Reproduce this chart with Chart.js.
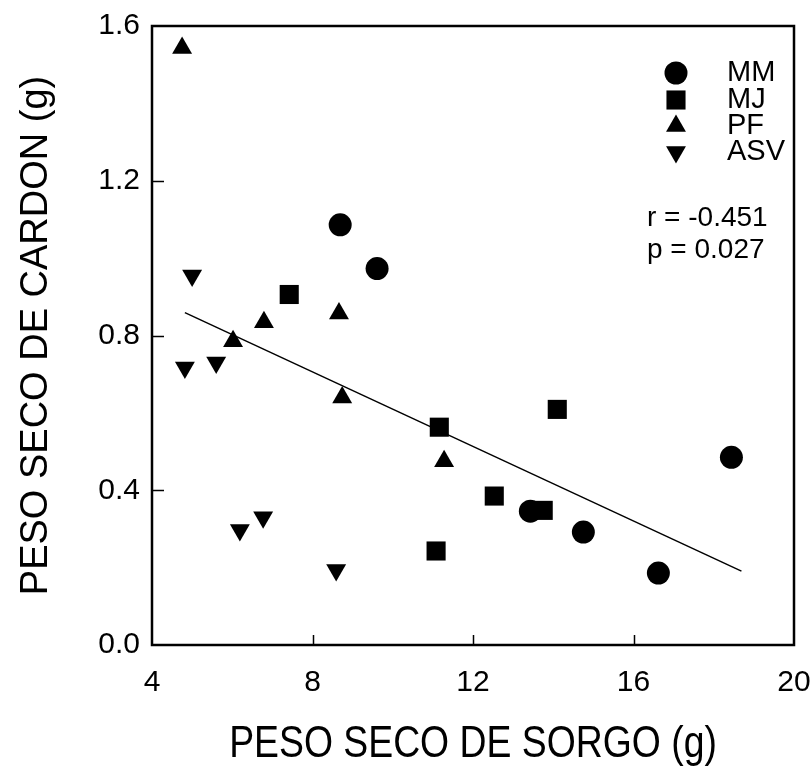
<!DOCTYPE html>
<html>
<head>
<meta charset="utf-8">
<script src="https://cdn.jsdelivr.net/npm/chart.js@4.4.1/dist/chart.umd.min.js"></script>
<style>
  html, body { margin: 0; padding: 0; background: #ffffff; }
  #wrap { width: 812px; height: 778px; }
</style>
</head>
<body>
<div id="wrap"><canvas id="c" width="812" height="778"></canvas></div>
<script>
// Axis ticks
const xTicks = [4, 8, 12, 16, 20];
const yTicks = [0.0, 0.4, 0.8, 1.2, 1.6];

// Sorghum dry weight (g) vs. cardon dry weight (g), by site
const mmX = [8.69, 9.61, 13.43, 14.75, 16.62, 18.44];
const mmY = [1.086, 0.973, 0.346, 0.292, 0.186, 0.485];

const mjX = [7.42, 11.16, 14.10, 12.53, 13.75, 11.08];
const mjY = [0.906, 0.563, 0.609, 0.385, 0.348, 0.243];

const pfX = [4.75, 6.79, 6.02, 8.66, 8.74, 11.28];
const pfY = [1.543, 0.834, 0.785, 0.857, 0.640, 0.475];

const asvX = [5.00, 4.82, 5.60, 6.19, 6.77, 8.59];
const asvY = [0.955, 0.717, 0.730, 0.297, 0.330, 0.194];

// Regression line end points
const fitX = [4.82, 18.69];
const fitY = [0.859, 0.191];

const seriesNames = ['MM', 'MJ', 'PF', 'ASV'];
const statLines = ['r = -0.451', 'p = 0.027'];
const xTitle = 'PESO SECO DE SORGO (g)';
const yTitle = 'PESO SECO DE CARDON (g)';

const FONT = '"Liberation Sans", Arial, sans-serif';

function pts(xs, ys) { return xs.map((x, i) => ({ x: x, y: ys[i] })); }

function series(label, xs, ys, style, radius, rotation) {
  return {
    label: label,
    data: pts(xs, ys),
    pointStyle: style,
    pointRadius: radius,
    pointHoverRadius: radius,
    pointRotation: rotation,
    pointBackgroundColor: '#000000',
    pointBorderColor: '#000000',
    pointBorderWidth: 0,
    showLine: false
  };
}

const datasets = [
  series(seriesNames[0], mmX, mmY, 'circle', 11.5, 0),
  series(seriesNames[1], mjX, mjY, 'rect', 13.5, 0),
  series(seriesNames[2], pfX, pfY, 'triangle', 11.5, 0),
  series(seriesNames[3], asvX, asvY, 'triangle', 11.5, 180),
  {
    label: 'fit',
    data: pts(fitX, fitY),
    showLine: true,
    borderColor: '#000000',
    borderWidth: 1.5,
    pointRadius: 0,
    pointHoverRadius: 0,
    fill: false
  }
];

// Box frame, inward tick marks, legend, statistics and x title
const decor = {
  id: 'decor',
  afterDraw(chart) {
    const ctx = chart.ctx;
    const a = chart.chartArea;
    const xs = chart.scales.x, ys = chart.scales.y;
    ctx.save();
    ctx.strokeStyle = '#000000';
    ctx.lineWidth = 2.5;
    ctx.strokeRect(a.left, a.top, a.right - a.left, a.bottom - a.top);

    ctx.lineWidth = 1.5;
    ctx.beginPath();
    yTicks.slice(1, -1).forEach(v => {
      const py = Math.round(ys.getPixelForValue(v)) + 0.5;
      ctx.moveTo(a.left, py); ctx.lineTo(a.left + 12, py);
    });
    xTicks.slice(1, -1).forEach(v => {
      const px = Math.round(xs.getPixelForValue(v)) + 0.5;
      ctx.moveTo(px, a.bottom); ctx.lineTo(px, a.bottom - 10);
    });
    ctx.stroke();

    // legend
    const rowY = [73, 100, 126, 152];
    ctx.fillStyle = '#000000';
    ctx.font = '29px ' + FONT;
    ctx.textAlign = 'left';
    ctx.textBaseline = 'middle';
    for (let i = 0; i < 4; i++) {
      const ds = chart.data.datasets[i];
      Chart.helpers.drawPoint(ctx, {
        pointStyle: ds.pointStyle,
        rotation: ds.pointRotation,
        radius: ds.pointRadius,
        borderWidth: 0
      }, 676, rowY[i]);
      ctx.fillStyle = '#000000';
      ctx.fillText(ds.label, 727, rowY[i]);
    }

    // statistics
    ctx.font = '28px ' + FONT;
    ctx.fillText(statLines[0], 647, 218);
    ctx.fillText(statLines[1], 647, 250);

    // condensed x-axis title
    ctx.font = '45px ' + FONT;
    ctx.textAlign = 'center';
    ctx.translate(473, 745);
    ctx.scale(0.83, 1);
    ctx.fillText(xTitle, 0, 0);
    ctx.restore();
  }
};

new Chart(document.getElementById('c'), {
  type: 'scatter',
  data: { datasets: datasets },
  options: {
    responsive: false,
    animation: false,
    devicePixelRatio: 1,
    layout: { padding: { left: 0, top: 26, right: 18, bottom: 0 } },
    plugins: {
      legend: { display: false },
      tooltip: { enabled: false }
    },
    scales: {
      x: {
        type: 'linear',
        min: 4, max: 20,
        afterBuildTicks: s => { s.ticks = xTicks.map(v => ({ value: v })); },
        afterFit: s => { s.height = 133; s.paddingLeft = 0; s.paddingRight = 0; },
        grid: { display: false, drawTicks: false },
        border: { display: false },
        ticks: {
          color: '#000000',
          font: { family: FONT, size: 30 },
          padding: 20,
          maxRotation: 0,
          callback: v => String(v)
        }
      },
      y: {
        type: 'linear',
        min: 0, max: 1.6,
        afterBuildTicks: s => { s.ticks = yTicks.map(v => ({ value: v })); },
        afterFit: s => { s.width = 152; s.paddingTop = 0; s.paddingBottom = 0; },
        grid: { display: false, drawTicks: false },
        border: { display: false },
        ticks: {
          color: '#000000',
          font: { family: FONT, size: 30 },
          padding: 12,
          callback: v => Number(v).toFixed(1)
        },
        title: {
          display: true,
          text: yTitle,
          color: '#000000',
          font: { family: FONT, size: 38 },
          padding: { top: 14, bottom: 0 }
        }
      }
    }
  },
  plugins: [decor]
});
</script>
</body>
</html>
